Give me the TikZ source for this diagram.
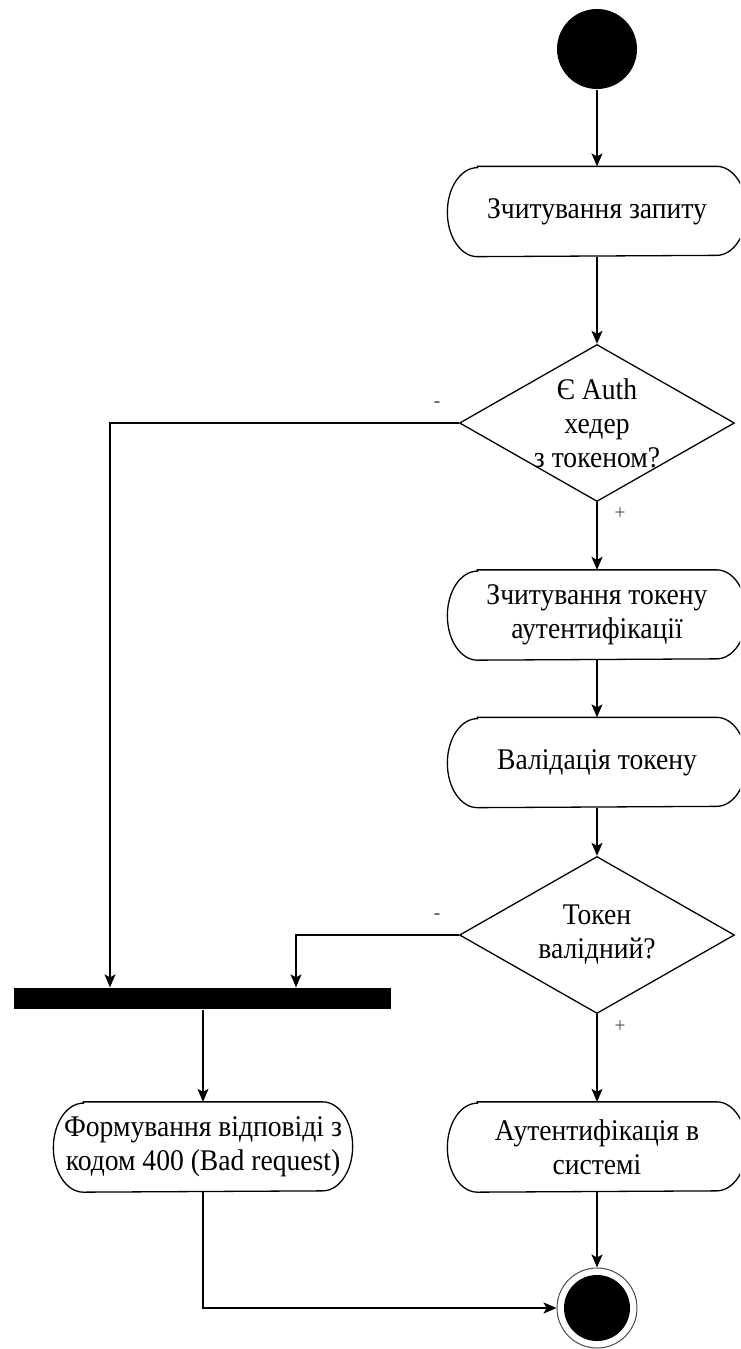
\documentclass[tikz,border=0pt]{standalone}
\usepackage{fontspec}
\setmainfont[FakeStretch=0.92]{Liberation Serif}
\usetikzlibrary{shapes.geometric,arrows.meta}
\begin{document}
\begin{tikzpicture}[x=1pt,y=-1pt,line width=1.3pt,
  txt/.style={font=\fontsize{30}{34}\selectfont,align=center},
  action/.style={txt,minimum width=298pt,minimum height=89pt,inner sep=0pt},
  decision/.style={draw,diamond,minimum width=275pt,minimum height=157pt,inner sep=0pt},
  guard/.style={font=\fontsize{21}{21}\selectfont,text=black!70,inner sep=0pt},
  arr/.style={-{Stealth[length=13pt,width=11pt,inset=3pt]}}]
\clip (0,0) rectangle (740,1349);

% start and end states
\node[circle,fill=black,minimum size=80pt,inner sep=0pt] (start) at (597,49) {};
\node[circle,draw=black!70,line width=1pt,minimum size=80pt,inner sep=0pt] (finish) at (597,1308) {};
\fill (finish) circle[radius=33pt];

% activities
\node[action] (read) at (597,211.5) {Зчитування запиту};
\node[action] (readtok) at (597,615) {Зчитування токену\\аутентифікації};
\node[action] (valid) at (597,762.5) {Валідація токену};
\node[action] (badreq) at (203,1147) {Формування відповіді з\\кодом 400 (Bad request)};
\node[action] (auth) at (597,1147) {Аутентифікація в\\системі};

% activity outlines: flat top and bottom, elliptic ends
\foreach \n in {read,readtok,valid,badreq,auth}
  \draw ([xshift=30pt]\n.north west) -- ([xshift=-30pt]\n.north east)
    arc[start angle=90,end angle=-90,x radius=30pt,y radius=44.5pt]
    -- ([xshift=30pt]\n.south west)
    arc[start angle=270,end angle=90,x radius=30pt,y radius=44.5pt] -- cycle;

% decisions
\node[decision,label={[txt,name=q1text]center:Є Auth\\хедер\\з токеном?}] (q1) at (597,423) {};
\node[decision,label={[txt,name=q2text]center:Токен\\валідний?}] (q2) at (597,935) {};

% join bar
\node[fill=black,minimum width=377pt,minimum height=21pt,inner sep=0pt] (bar) at (202.5,998.5) {};
\coordinate (j1) at (110,423);
\coordinate (j2) at (296,935);

% guards
\node[guard] (q1no) at (437,405) {-};
\node[guard] (q1yes) at (620,514) {+};
\node[guard] (q2no) at (437,917) {-};
\node[guard] (q2yes) at (620,1027) {+};

% flows
\draw[arr] (start) -- (read);
\draw[arr] (read) -- (q1);
\draw[arr] (q1) -- (readtok);
\draw[arr] (readtok) -- (valid);
\draw[arr] (valid) -- (q2);
\draw[arr] (q2) -- (auth);
\draw[arr] (auth) -- (finish);
\draw[arr] (q1.west) -- (j1) -- (j1 |- bar.north);
\draw[arr] (q2.west) -- (j2) -- (j2 |- bar.north);
\draw[arr] (bar.south -| badreq) -- (badreq);
\draw[arr] (badreq.south) |- (finish.west);
\end{tikzpicture}
\end{document}
